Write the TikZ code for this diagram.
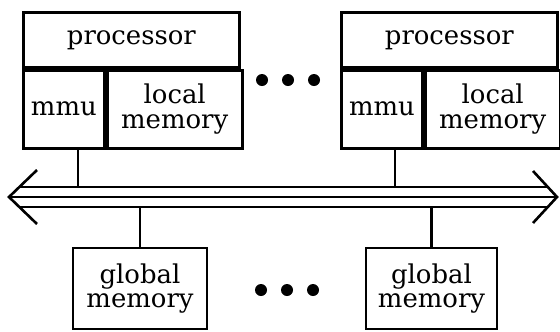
\documentclass[tikz,border=0pt]{standalone}
\usepackage{fontspec}
\setmainfont{DejaVu Serif}
\usetikzlibrary{positioning}
\tikzset{
  box/.style={draw, line width=2.8bp, inner sep=0pt, align=center,
    font=\fontsize{26}{25}\selectfont},
  wire/.style={line width=2.6bp},
}
\begin{document}
\begin{tikzpicture}[x=1bp,y=-1bp]
\useasboundingbox (0,0) rectangle (560,331);
% processor 1
\node[box, minimum width=216bp, minimum height=55bp, anchor=north west] (procL) at (22,11) {processor};
\node[box, minimum width=81bp, minimum height=78bp, below right=0pt and 0pt of procL.south west] (mmuL) {mmu};
\node[box, minimum width=135bp, minimum height=78bp, right=0pt of mmuL] (locL) {local\\memory};
% processor n
\node[box, minimum width=216bp, minimum height=55bp, anchor=north west] (procR) at (340,11) {processor};
\node[box, minimum width=81bp, minimum height=78bp, below right=0pt and 0pt of procR.south west] (mmuR) {mmu};
\node[box, minimum width=135bp, minimum height=78bp, right=0pt of mmuR] (locR) {local\\memory};
% global memories
\node[box, minimum width=134bp, minimum height=81bp] (gmemL) at (140,288.5) {global\\memory};
\node[box, minimum width=131bp, minimum height=81bp] (gmemR) at (431.5,288.5) {global\\memory};
% dots
\foreach \x in {262,288,314} {
  \fill (\x,80) circle (6bp);
  \fill (\x-1,290) circle (6bp);
}
% bus
\coordinate (tipL) at (9,197);
\coordinate (tipR) at (557,197);
\draw[wire] (tipL) -- (tipR);
\draw[wire] (19,187) -- (547,187);
\draw[wire] (19,207) -- (547,207);
\draw[wire, line join=miter] (37,170) -- (tipL) -- (37,224);
\draw[wire, line join=miter] (533,171) -- (tipR) -- (533,223);
% stems
\coordinate (busL) at (78,187);
\coordinate (busR) at (395,187);
\coordinate (busGL) at (140,207);
\coordinate (busGR) at (431.5,207);
\draw[wire] (mmuL.south -| busL) -- (busL);
\draw[wire] (mmuR.south -| busR) -- (busR);
\draw[wire] (busGL) -- (gmemL.north);
\draw[wire] (busGR) -- (gmemR.north);
\end{tikzpicture}
\end{document}
